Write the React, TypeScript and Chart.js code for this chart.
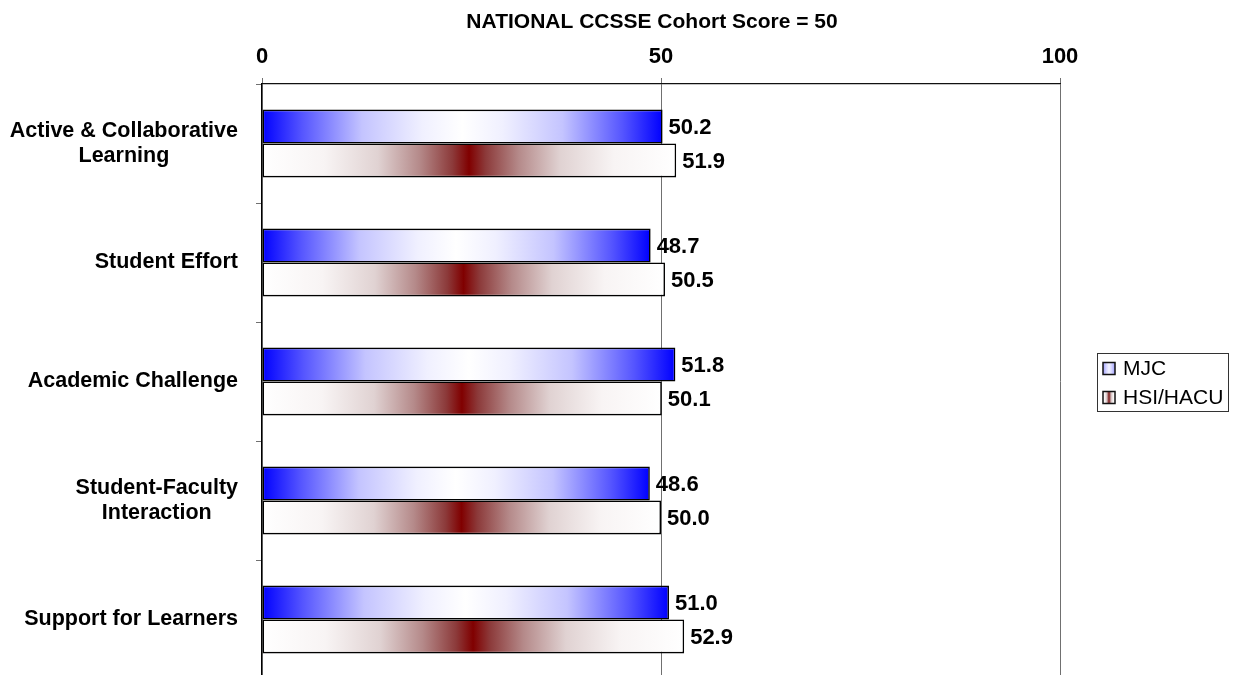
import React, { useEffect, useRef } from "react";
import { Chart, registerables } from "chart.js";

Chart.register(...registerables);

const categories: string[][] = [
  ["Active & Collaborative", "Learning"],
  ["Student Effort"],
  ["Academic Challenge"],
  ["Student-Faculty", "Interaction"],
  ["Support for Learners"],
];
const seriesNames = ["MJC", "HSI/HACU"];
const mjcValues = [50.2, 48.7, 51.8, 48.6, 51.0];
const hsiValues = [51.9, 50.5, 50.1, 50.0, 52.9];
const xTickValues = [0, 50, 100];
const chartTitle = "NATIONAL CCSSE Cohort Score = 50";

const FONT = "'Liberation Sans', Arial, Helvetica, sans-serif";

const blueStops: [number, string][] = [
  [0, "#0000ff"], [0.1, "#5555ff"], [0.25, "#c4c4ff"], [0.4, "#f0f0ff"],
  [0.5, "#ffffff"], [0.6, "#f0f0ff"], [0.75, "#c4c4ff"], [0.9, "#5555ff"], [1, "#0000ff"],
];
const redStops: [number, string][] = [
  [0, "#ffffff"], [0.15, "#f8f4f4"], [0.28, "#e0d2d2"], [0.38, "#b58a8a"],
  [0.46, "#8c3a3a"], [0.5, "#800000"], [0.54, "#8c3a3a"], [0.62, "#b58a8a"],
  [0.72, "#e0d2d2"], [0.85, "#f8f4f4"], [1, "#ffffff"],
];
const blueLegendStops: [number, string][] = [
  [0, "#a0a0ff"], [0.3, "#d8d8ff"], [0.5, "#f4f4ff"], [0.7, "#d8d8ff"], [1, "#a0a0ff"],
];

function makeGrad(c: CanvasRenderingContext2D, x0: number, x1: number, stops: [number, string][]) {
  const g = c.createLinearGradient(x0, 0, x1 === x0 ? x0 + 1 : x1, 0);
  stops.forEach(([o, col]) => g.addColorStop(o, col));
  return g;
}

function barBg(stops: [number, string][]) {
  return (ctx: any) => {
    const chart = ctx.chart;
    const xs = chart.scales?.x;
    const fallback = stops[Math.floor(stops.length / 2)][1];
    if (!xs || ctx.raw == null) return fallback;
    const x0 = xs.getPixelForValue(0);
    const x1 = xs.getPixelForValue(ctx.raw);
    if (!isFinite(x0) || !isFinite(x1)) return fallback;
    return makeGrad(chart.ctx, x0, x1, stops);
  };
}

const overlayPlugin = {
  id: "overlay",
  afterDraw(chart: any) {
    const c: CanvasRenderingContext2D = chart.ctx;
    const area = chart.chartArea;
    const ys = chart.scales.y;
    c.save();
    // title
    c.fillStyle = "#000";
    c.font = `bold 21px ${FONT}`;
    c.textAlign = "center";
    c.textBaseline = "middle";
    c.fillText(chartTitle, 652, 22);

    // category labels
    c.font = `bold 21.5px ${FONT}`;
    const rightEdge = area.left - 24;
    const lh = 25;
    categories.forEach((lines, i) => {
      const cy = ys.getPixelForValue(i);
      const maxW = Math.max(...lines.map((l) => c.measureText(l).width));
      const cx = rightEdge - maxW / 2;
      const startY = cy - ((lines.length - 1) * lh) / 2;
      lines.forEach((l, j) => c.fillText(l, cx, startY + j * lh));
    });

    // data labels
    c.font = `bold 22px ${FONT}`;
    c.textAlign = "left";
    chart.data.datasets.forEach((ds: any, di: number) => {
      const meta = chart.getDatasetMeta(di);
      meta.data.forEach((el: any, i: number) => {
        c.fillText(Number(ds.data[i]).toFixed(1), el.x + 6, el.y + 1);
      });
    });

    // legend
    const lx = area.right + 37;
    const lw = 131;
    const lhgt = 58;
    const ly = (area.top + area.bottom) / 2 - lhgt / 2;
    c.strokeStyle = "#333";
    c.lineWidth = 1;
    c.strokeRect(Math.round(lx) + 0.5, Math.round(ly) + 0.5, lw, lhgt);
    c.font = `21px ${FONT}`;
    const stopsList = [blueLegendStops, redStops];
    seriesNames.forEach((name, i) => {
      const rowY = ly + 16 + i * 29;
      const sx = lx + 6;
      const sq = 12;
      c.fillStyle = makeGrad(c, sx, sx + sq, stopsList[i]);
      c.fillRect(sx, rowY - sq / 2, sq, sq);
      c.strokeStyle = "#111";
      c.lineWidth = 1.5;
      c.strokeRect(sx, rowY - sq / 2, sq, sq);
      c.fillStyle = "#000";
      c.fillText(name, sx + 20, rowY + 1);
    });
    c.restore();
  },
};

export default function App() {
  const ref = useRef<HTMLCanvasElement | null>(null);
  useEffect(() => {
    if (!ref.current) return;
    const chart = new Chart(ref.current, {
      type: "bar",
      data: {
        labels: categories.map((l) => l.join(" ")),
        datasets: [
          {
            label: seriesNames[0],
            data: mjcValues,
            backgroundColor: barBg(blueStops),
            borderColor: "#000",
            borderWidth: 1.6,
            borderSkipped: false,
          },
          {
            label: seriesNames[1],
            data: hsiValues,
            backgroundColor: barBg(redStops),
            borderColor: "#000",
            borderWidth: 1.6,
            borderSkipped: false,
          },
        ],
      },
      options: {
        indexAxis: "y",
        responsive: false,
        animation: false,
        events: [],
        layout: { padding: { top: 34, right: 176, bottom: 11, left: 0 } },
        categoryPercentage: 0.571,
        barPercentage: 1.0,
        plugins: { legend: { display: false }, title: { display: false }, tooltip: { enabled: false } },
        scales: {
          x: {
            position: "top",
            min: 0,
            max: 100,
            afterBuildTicks: (s: any) => {
              s.ticks = xTickValues.map((v) => ({ value: v }));
            },
            afterFit: (s: any) => {
              s.height = 50;
            },
            ticks: {
              color: "#000",
              font: { family: FONT, size: 22, weight: "bold" },
              padding: 8,
            },
            grid: { color: "#707070", lineWidth: 1, drawTicks: true, tickLength: 6 },
            border: { color: "#111", width: 1.2 },
          },
          y: {
            type: "category",
            offset: true,
            afterFit: (s: any) => {
              s.width = 262;
            },
            ticks: { display: false },
            grid: { offset: true, drawOnChartArea: false, drawTicks: true, tickLength: 6, color: "#707070" },
            border: { color: "#000", width: 1.2 },
          },
        },
      } as any,
      plugins: [overlayPlugin],
    });
    return () => chart.destroy();
  }, []);
  return (
    <div style={{ position: "fixed", left: 0, top: 0, width: 1236, height: 690, background: "#fff" }}>
      <canvas ref={ref} width={1236} height={690} style={{ width: 1236, height: 690, display: "block" }} />
    </div>
  );
}
